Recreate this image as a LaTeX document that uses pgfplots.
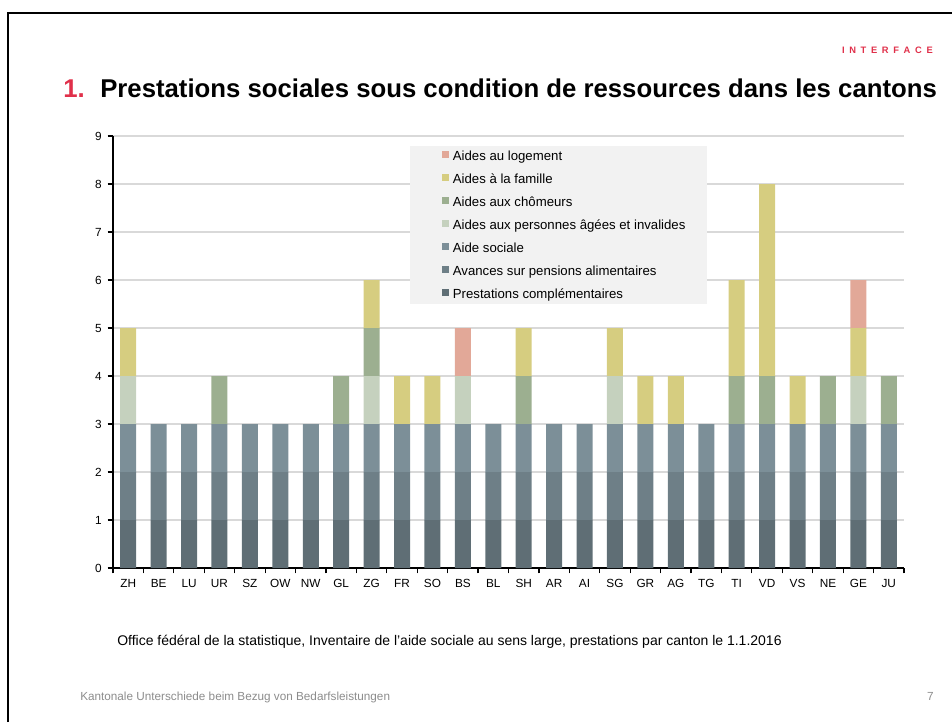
\documentclass[border=0pt]{standalone}
\usepackage{pgfplots}
\pgfplotsset{compat=1.18}
\usepackage{pgfplotstable}
\usepackage{fontspec}
\setmainfont{Liberation Sans}
\definecolor{cPC}{HTML}{5F6E75}
\definecolor{cAV}{HTML}{6E7F87}
\definecolor{cAS}{HTML}{7C8F98}
\definecolor{cAG}{HTML}{C5D1BE}
\definecolor{cCH}{HTML}{9CAF90}
\definecolor{cFA}{HTML}{D6CD80}
\definecolor{cLO}{HTML}{E2A898}
\definecolor{legbg}{HTML}{F2F2F2}
\definecolor{gridc}{HTML}{D9D9D9}
\definecolor{ired}{HTML}{E0304A}
\definecolor{footg}{HTML}{8C8C8C}

% idx: ZH BE LU UR SZ OW NW GL ZG FR SO BS BL SH AR AI SG GR AG TG TI VD VS NE GE JU
\pgfplotstableread{
idx pc av as ag ch fa lo
0  1 1 1 1 0 1 0
1  1 1 1 0 0 0 0
2  1 1 1 0 0 0 0
3  1 1 1 0 1 0 0
4  1 1 1 0 0 0 0
5  1 1 1 0 0 0 0
6  1 1 1 0 0 0 0
7  1 1 1 0 1 0 0
8  1 1 1 1 1 1 0
9  1 1 1 0 0 1 0
10 1 1 1 0 0 1 0
11 1 1 1 1 0 0 1
12 1 1 1 0 0 0 0
13 1 1 1 0 1 1 0
14 1 1 1 0 0 0 0
15 1 1 1 0 0 0 0
16 1 1 1 1 0 1 0
17 1 1 1 0 0 1 0
18 1 1 1 0 0 1 0
19 1 1 1 0 0 0 0
20 1 1 1 0 1 2 0
21 1 1 1 0 1 4 0
22 1 1 1 0 0 1 0
23 1 1 1 0 1 0 0
24 1 1 1 1 0 1 1
25 1 1 1 0 1 0 0
}\data

\begin{document}
\begin{tikzpicture}[x=0.75pt,y=0.75pt]
\path[use as bounding box] (0,0) rectangle (952,-722);
\draw[line width=1.5pt] (8.2,-722) -- (8.2,-13) -- (952,-13);
% header
\node[anchor=base east, inner sep=0pt, text=ired, font=\fontsize{7}{8}\bfseries\selectfont] at (933,-53)
  {I\hspace{3.5pt}N\hspace{3.5pt}T\hspace{3.5pt}E\hspace{3.5pt}R\hspace{3.5pt}F\hspace{3.5pt}A\hspace{3.5pt}C\hspace{3.5pt}E};
\node[anchor=base west, inner sep=0pt, text=ired, font=\fontsize{19.3}{22}\bfseries\selectfont] at (63,-97.5) {1.};
\node[anchor=base west, inner sep=0pt, font=\fontsize{19.3}{22}\bfseries\selectfont] at (100,-97.5)
  {Prestations sociales sous condition de ressources dans les cantons};
% footer
\node[anchor=base west, inner sep=0pt, font=\fontsize{10.5}{12}\selectfont] at (117,-645.5)
  {Office fédéral de la statistique, Inventaire de l'aide sociale au sens large, prestations par canton le 1.1.2016};
\node[anchor=base west, inner sep=0pt, text=footg, font=\fontsize{8.8}{10}\selectfont] at (80,-700.5)
  {Kantonale Unterschiede beim Bezug von Bedarfsleistungen};
\node[anchor=base east, inner sep=0pt, text=footg, font=\fontsize{8.8}{10}\selectfont] at (934,-700.5) {7};

\begin{axis}[
  at={(84.75pt,-426pt)}, anchor=south west,
  scale only axis, width=593.25pt, height=324pt,
  ybar stacked, bar width=12pt,
  xmin=-0.5, xmax=25.5, ymin=0, ymax=9,
  xtick={0,...,25},
  xticklabels={ZH,BE,LU,UR,SZ,OW,NW,GL,ZG,FR,SO,BS,BL,SH,AR,AI,SG,GR,AG,TG,TI,VD,VS,NE,GE,JU},
  minor xtick={-0.5,0.5,...,25.5},
  major x tick style={draw=none},
  ytick={0,...,9},
  axis lines=left,
  axis line style={-, line width=1.1pt, black},
  tick align=outside,
  major tick length=4pt, minor tick length=4pt,
  tick style={black, line width=0.9pt},
  ymajorgrids, grid style={gridc, line width=1pt},
  ticklabel style={font=\fontsize{8.85}{10}\selectfont},
  /pgf/number format/assume math mode=true,
  xticklabel style={yshift=-1pt},
  yticklabel style={xshift=-1pt},
  reverse legend,
  legend cell align=left,
  legend image code/.code={\fill[#1] (0pt,-0.6pt) rectangle (5.2pt,4.6pt);},
  legend style={at={(0.4155,0.965)}, anchor=north west, draw=none, fill=none,
    inner sep=0pt, row sep=8.1pt,
    font=\fontsize{9.9}{11}\selectfont,
    /tikz/every odd column/.append style={column sep=2pt},
    nodes={inner ysep=0pt, inner xsep=1pt, text height=7pt, text depth=2pt}},
]
\fill[legbg] (axis cs:9.27,5.51) rectangle (axis cs:19.04,8.79);
\addplot[fill=cPC, draw=none] table[x=idx, y=pc] {\data};
\addlegendentry{Prestations complémentaires}
\addplot[fill=cAV, draw=none] table[x=idx, y=av] {\data};
\addlegendentry{Avances sur pensions alimentaires}
\addplot[fill=cAS, draw=none] table[x=idx, y=as] {\data};
\addlegendentry{Aide sociale}
\addplot[fill=cAG, draw=none] table[x=idx, y=ag] {\data};
\addlegendentry{Aides aux personnes âgées et invalides}
\addplot[fill=cCH, draw=none] table[x=idx, y=ch] {\data};
\addlegendentry{Aides aux chômeurs}
\addplot[fill=cFA, draw=none] table[x=idx, y=fa] {\data};
\addlegendentry{Aides à la famille}
\addplot[fill=cLO, draw=none] table[x=idx, y=lo] {\data};
\addlegendentry{Aides au logement}
\end{axis}
\end{tikzpicture}
\end{document}
